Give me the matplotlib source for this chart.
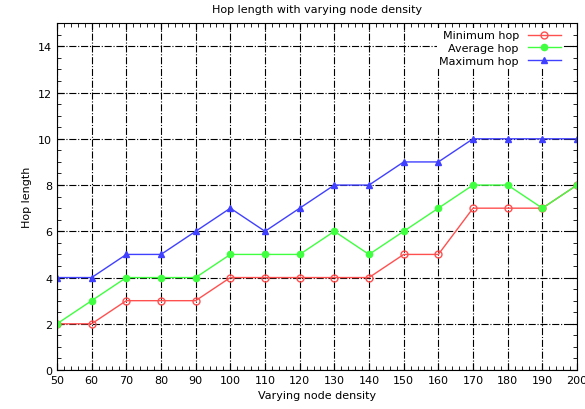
import numpy as np
import matplotlib.pyplot as plt
from matplotlib.ticker import MultipleLocator

# Datos
densidad = [50, 60, 70, 80, 90, 100, 110, 120, 130, 140, 150, 160, 170, 180, 190, 200]
salto_min = [2, 2, 3, 3, 3, 4, 4, 4, 4, 4, 5, 5, 7, 7, 7, 8]
salto_medio = [2, 3, 4, 4, 4, 5, 5, 5, 6, 5, 6, 7, 8, 8, 7, 8]
salto_max = [4, 4, 5, 5, 6, 7, 6, 7, 8, 8, 9, 9, 10, 10, 10, 10]

fig = plt.figure(figsize=(5.85, 4.10), dpi=100)
ax = fig.add_axes([0.0974, 0.095, 0.889, 0.846])

ax.plot(densidad, salto_min, color='#ff5050', lw=1, marker='o', ms=5,
        mfc='none', mew=1, label='Minimum hop')
ax.plot(densidad, salto_medio, color='#40ff40', lw=1, marker='o', ms=4.5,
        label='Average hop')
ax.plot(densidad, salto_max, color='#4040ff', lw=1, marker='^', ms=4,
        label='Maximum hop')

ax.set_xlim(50, 200)
ax.set_ylim(0, 15)
ax.xaxis.set_major_locator(MultipleLocator(10))
ax.xaxis.set_minor_locator(MultipleLocator(2))
ax.yaxis.set_major_locator(MultipleLocator(2))
ax.yaxis.set_minor_locator(MultipleLocator(0.5))
ax.tick_params(which='both', direction='in', top=True, right=True, labelsize=8)
ax.tick_params(which='major', length=5)
ax.tick_params(which='minor', length=3)

ax.grid(True, which='major', color='black', linestyle='-.', lw=0.8)

ax.set_title('Hop length with varying node density', fontsize=8, pad=8)
ax.set_xlabel('Varying node density', fontsize=8)
ax.set_ylabel('Hop length', fontsize=8)

leg = ax.legend(loc='upper right', bbox_to_anchor=(0.98, 0.995), fontsize=8,
                frameon=True, markerfirst=False, handlelength=3,
                borderaxespad=0.3, labelspacing=0.25, borderpad=0.2,
                fancybox=False, framealpha=1)
leg.get_frame().set_edgecolor('none')
leg.get_frame().set_facecolor('white')

fig.savefig('out.png', dpi=100)
